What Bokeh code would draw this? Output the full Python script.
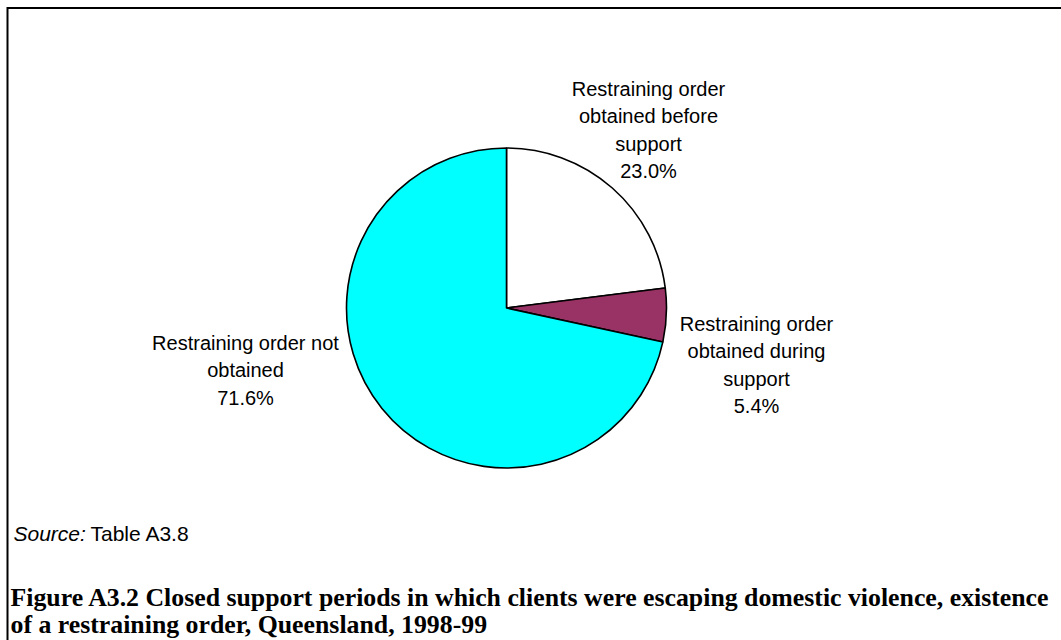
import math
from bokeh.plotting import figure
from bokeh.models import Range1d, Arrow, ColumnDataSource
from bokeh.core.properties import value
from bokeh.embed import file_html
from bokeh.resources import INLINE

# ---- data ----
categories = ["Restraining order obtained before support",
              "Restraining order obtained during support",
              "Restraining order not obtained"]
shares = [23.0, 5.4, 71.6]
slice_colors = ["#FFFFFF", "#993366", "#00FFFF"]
label_lines = [["Restraining order", "obtained before", "support"],
               ["Restraining order", "obtained during", "support"],
               ["Restraining order not", "obtained"]]
source_note = "Table A3.8"
caption_lines = ["Figure A3.2 Closed support periods in which clients were escaping domestic violence, existence",
                 "of a restraining order, Queensland, 1998-99"]

# ---- layout (page-pixel like coordinates; y measured from page top) ----
W, H = 1061, 640
def Y(ys):
    return H - ys

cx, cy_s, r = 506, 307.5, 160
label_x = [648, 756, 245]
label_first_baseline = [88, 323, 342]
line_step = 27.5

p = figure(width=W, height=H, output_backend="svg", toolbar_location=None,
           x_range=Range1d(0, W), y_range=Range1d(0, H),
           min_border=0, outline_line_color=None)
p.axis.visible = False
p.grid.visible = False
p.background_fill_color = "white"
p.border_fill_color = "white"

# pie wedges
total = sum(shares)
starts, ends = [], []
cum = 0.0
for s in shares:
    starts.append(math.pi / 2 - 2 * math.pi * cum / total)
    cum += s
    ends.append(math.pi / 2 - 2 * math.pi * cum / total)
src = ColumnDataSource(dict(start=starts, end=ends, color=slice_colors, cat=categories))
p.wedge(x=cx, y=Y(cy_s), radius=r, start_angle="start", end_angle="end",
        direction="clock", fill_color="color", line_color="black", line_width=1.6,
        source=src)

# slice labels
xs, ys, txt = [], [], []
for i, lines in enumerate(label_lines):
    full = lines + [f"{shares[i]:.1f}%"]
    for j, t in enumerate(full):
        xs.append(label_x[i])
        ys.append(Y(label_first_baseline[i] + j * line_step))
        txt.append(t)
p.text(x=xs, y=ys, text=txt, text_align="center", text_baseline="alphabetic",
       text_font=value("Liberation Sans"), text_font_size="20px", text_color="black")

# source note
p.text(x=[13], y=[Y(533)], text=["Source:"], text_align="left", text_baseline="alphabetic",
       text_font=value("Liberation Sans"), text_font_style="italic",
       text_font_size="21px", text_color="black")
p.text(x=[90], y=[Y(533)], text=[source_note], text_align="left", text_baseline="alphabetic",
       text_font=value("Liberation Sans"), text_font_size="21px", text_color="black")

# caption
p.text(x=[10, 10], y=[Y(597), Y(624)], text=caption_lines, text_align="left",
       text_baseline="alphabetic", text_font=value("Liberation Serif"),
       text_font_style="bold", text_font_size="25.8px", text_color="black")

# frame border (top and left edges of the enclosing box)
p.add_layout(Arrow(end=None, x_start=7, y_start=Y(7.5), x_end=W + 20, y_end=Y(7.5),
                   line_color="black", line_width=2))
p.add_layout(Arrow(end=None, x_start=7, y_start=Y(6.5), x_end=7, y_end=-20,
                   line_color="black", line_width=2))

open("out.html", "w").write(file_html(p, INLINE))
